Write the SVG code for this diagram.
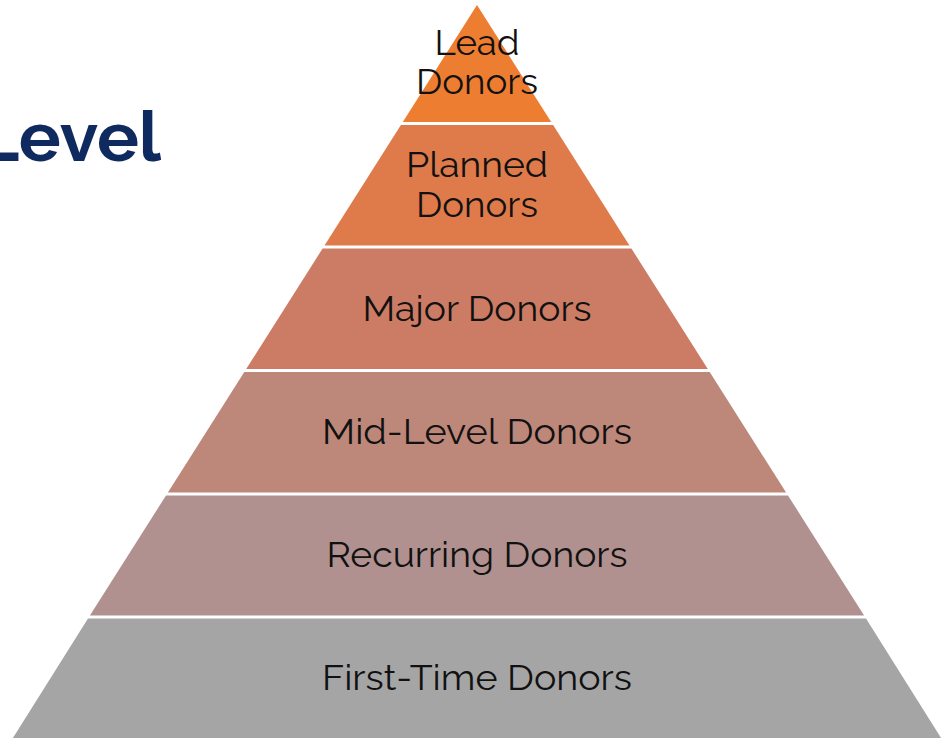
<svg xmlns="http://www.w3.org/2000/svg" width="951" height="740" viewBox="0 0 951 740">
  <style>
    .lbl { font-family: Raleway, "Open Sans", "Noto Sans", sans-serif; font-size: 35px; fill: #111111; text-anchor: middle; }
    .title { font-family: Raleway, Montserrat, "Open Sans", sans-serif; font-size: 70px; font-weight: 700; fill: #0F2A5E; text-anchor: end; }
  </style>
  <rect width="951" height="740" fill="#FFFFFF"/>

  <text class="title" x="161" y="161">Level</text>

  <!-- pyramid tiers, top to bottom -->
  <g id="lead">
    <polygon points="477,5 551.2,122 402.8,122" fill="#ED7D31"/>
    <text class="lbl" x="477" y="55" textLength="85" lengthAdjust="spacingAndGlyphs">Lead</text>
    <text class="lbl" x="477" y="94" textLength="122" lengthAdjust="spacingAndGlyphs">Donors</text>
  </g>
  <g id="planned">
    <polygon points="400.9,125 553.1,125 629.5,245.5 324.5,245.5" fill="#DF7A4B"/>
    <text class="lbl" x="477" y="177" textLength="142" lengthAdjust="spacingAndGlyphs">Planned</text>
    <text class="lbl" x="477" y="217" textLength="122" lengthAdjust="spacingAndGlyphs">Donors</text>
  </g>
  <g id="major">
    <polygon points="322.6,248.5 631.4,248.5 707.8,369 246.2,369" fill="#CC7C64"/>
    <text class="lbl" x="477" y="321" textLength="229" lengthAdjust="spacingAndGlyphs">Major Donors</text>
  </g>
  <g id="mid-level">
    <polygon points="244.3,372 709.7,372 786.1,492.5 167.9,492.5" fill="#BD877A"/>
    <text class="lbl" x="477" y="444" textLength="310" lengthAdjust="spacingAndGlyphs">Mid-Level Donors</text>
  </g>
  <g id="recurring">
    <polygon points="166,495.5 788,495.5 864.1,615.5 89.9,615.5" fill="#B1918F"/>
    <text class="lbl" x="477" y="567" textLength="301" lengthAdjust="spacingAndGlyphs">Recurring Donors</text>
  </g>
  <g id="first-time">
    <polygon points="88,618.5 866,618.5 941.1,738 12.9,738" fill="#A5A5A5"/>
    <text class="lbl" x="477" y="690" textLength="310" lengthAdjust="spacingAndGlyphs">First-Time Donors</text>
  </g>

  <g id="connectors"/>
</svg>
